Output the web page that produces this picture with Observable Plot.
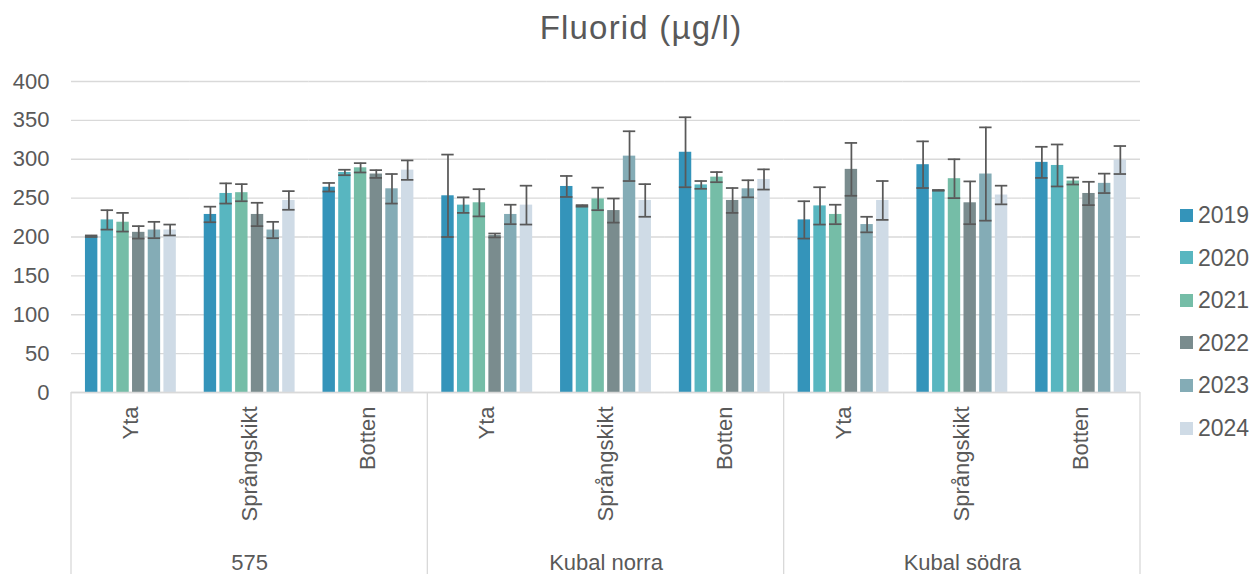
<!DOCTYPE html>
<html><head><meta charset="utf-8">
<script src="https://cdn.jsdelivr.net/npm/d3@7"></script>
<script src="https://cdn.jsdelivr.net/npm/@observablehq/plot@0.6"></script>
<style>
body{margin:0;background:#fff;font-family:"Liberation Sans",Arial,sans-serif;color:#595959}
#wrap{position:relative;width:1255px;height:574px;overflow:hidden;background:#fff}
#title{position:absolute;left:0;top:8px;width:1282px;text-align:center;font-size:33px;letter-spacing:1.2px;line-height:40px;z-index:2}
#legend{position:absolute;left:1180px;top:0;z-index:2}
.item{position:absolute;left:0;display:flex;align-items:center;white-space:nowrap;font-size:23px;line-height:28px;height:28px}
.sw{width:13px;height:13px;margin-right:5px;flex:none}
</style></head><body>
<div id="wrap"><div id="title">Fluorid (µg/l)</div><div id="legend"></div></div>
<script>
const groups = ["575", "Kubal norra", "Kubal södra"];
const layers = ["Yta", "Språngskikt", "Botten"];
const years = ["2019", "2020", "2021", "2022", "2023", "2024"];
const yTicks = [0, 50, 100, 150, 200, 250, 300, 350, 400];
// values per year, in order: 575 (Yta, Språngskikt, Botten), Kubal norra (...), Kubal södra (...)
const v2019 = [201, 229, 264, 253, 265, 309, 222, 293, 296];
const v2020 = [222, 256, 283, 241, 240, 267, 240, 260, 292];
const v2021 = [219, 257, 289, 244, 249, 277, 229, 275, 272];
const v2022 = [206, 229, 281, 202, 234, 247, 287, 244, 256];
const v2023 = [209, 209, 262, 229, 304, 262, 216, 281, 269];
const v2024 = [209, 247, 286, 241, 247, 274, 247, 254, 299];
// error (±) per year
const e2019 = [1, 10, 5.5, 53, 13.5, 45, 24, 30, 20];
const e2020 = [12.5, 13, 3.5, 10, 1, 5, 24, 0.5, 27];
const e2021 = [12, 11, 6, 17.5, 14.5, 6.5, 12.5, 25, 4.5];
const e2022 = [8, 15, 5, 2.5, 15.5, 16, 34, 27.5, 15];
const e2023 = [10.5, 10.5, 19, 12.5, 32, 11, 10, 60, 12.5];
const e2024 = [7, 12, 12.5, 25, 21, 13, 25, 12, 18];
const colors = ["#3494BA", "#58B6C0", "#75BDA7", "#7A8C8E", "#84ACB6", "#CFDBE6"];

const valueSeries = [v2019, v2020, v2021, v2022, v2023, v2024];
const errorSeries = [e2019, e2020, e2021, e2022, e2023, e2024];

const cats = [];
groups.forEach(g => layers.forEach(l => cats.push({key: g + "|" + l, group: g, layer: l})));
const rows = [];
years.forEach((yr, i) => cats.forEach((c, j) => {
  const v = valueSeries[i][j], e = errorSeries[i][j];
  rows.push({key: c.key, year: yr, value: v, lo: v - e, hi: v + e});
}));
const groupLabels = groups.map(g => ({key: g + "|" + layers[1], group: g}));

const W = 1255, H = 574;
const ink = "#595959", grid = "#D9D9D9";
const chart = Plot.plot({
  width: W, height: H,
  marginTop: 81, marginBottom: 182, marginLeft: 71, marginRight: 115,
  style: {fontFamily: '"Liberation Sans", Arial, sans-serif', color: ink, background: "transparent", overflow: "visible"},
  fx: {domain: cats.map(c => c.key), padding: 0, round: false},
  x: {domain: years, paddingInner: 0.21, paddingOuter: 0.889, round: false, axis: null},
  y: {domain: [0, 400], axis: null},
  color: {domain: years, range: colors},
  marks: [
    Plot.gridY(yTicks, {stroke: grid, strokeOpacity: 1, strokeWidth: 1.3}),
    Plot.axisY(yTicks, {anchor: "left", tickSize: 0, tickPadding: 22, fontSize: 22, label: null, fill: ink}),
    Plot.barY(rows, {fx: "key", x: "year", y: "value", fill: "year"}),
    Plot.ruleX(rows, {fx: "key", x: "year", y1: "lo", y2: "hi", stroke: ink, strokeWidth: 1.75}),
    Plot.tickY(rows, {fx: "key", x: "year", y: "lo", stroke: ink, strokeWidth: 1.75}),
    Plot.tickY(rows, {fx: "key", x: "year", y: "hi", stroke: ink, strokeWidth: 1.75}),
    Plot.ruleY([0], {stroke: grid, strokeWidth: 1.3}),
    Plot.axisFx({anchor: "bottom", tickSize: 0, tickPadding: 14, tickRotate: -90, fontSize: 22, label: null, fill: ink,
      tickFormat: k => k.split("|")[1]}),
    Plot.text(groupLabels, {fx: "key", text: "group", frameAnchor: "bottom", dy: 170, lineAnchor: "middle", fontSize: 22, fill: ink})
  ]
});
document.getElementById("wrap").appendChild(chart);
chart.style.position = "absolute";
chart.style.left = "0";
chart.style.top = "0";

// group separator lines under the axis, placed with the fx scale
const fx = chart.scale("fx");
const yb = chart.scale("y").apply(0);
const edges = groups.map(g => fx.apply(g + "|" + layers[0]));
edges.push(fx.apply(groups[groups.length - 1] + "|" + layers[2]) + fx.bandwidth);
d3.select(chart).append("g").selectAll("line").data(edges).join("line")
  .attr("x1", d => d).attr("x2", d => d).attr("y1", yb).attr("y2", H)
  .attr("stroke", grid).attr("stroke-width", 1.3);

// legend
const leg = document.getElementById("legend");
years.forEach((yr, i) => {
  const it = document.createElement("div");
  it.className = "item";
  it.style.top = (215 + i * 42.6 - 14) + "px";
  it.innerHTML = `<span class="sw" style="background:${colors[i]}"></span><span>${yr}</span>`;
  leg.appendChild(it);
});
</script>
</body></html>
